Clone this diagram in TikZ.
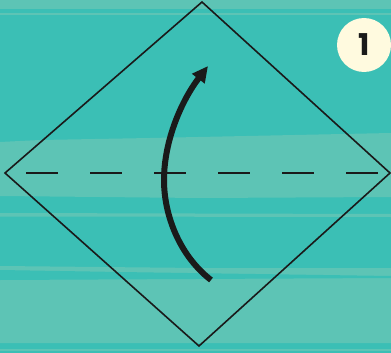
\documentclass[tikz,border=0pt]{standalone}
\usepackage{fontspec}
\setsansfont{Poppins}
\usetikzlibrary{arrows.meta,positioning,calc}
\definecolor{SeaTeal}{HTML}{3BBFB5}
\definecolor{SeaLight}{HTML}{5DC4B5}
\definecolor{PaperCream}{HTML}{FFFADF}
\definecolor{FoldBlack}{HTML}{1A1A1A}

\begin{document}
\begin{tikzpicture}[x=1pt,y=-1pt,font=\sffamily,
  streak/.style={fill=SeaLight,draw=none},
  edge/.style={draw=FoldBlack,line width=1.6pt,line join=miter},
  fold/.style={draw=FoldBlack,line width=2pt,dash pattern=on 32pt off 32pt,dash phase=43pt},
  turn/.style={draw=FoldBlack,line width=6pt,-{Triangle[length=16pt,width=15pt]}},
  badge/.style={circle,fill=PaperCream,minimum size=54pt,inner sep=0pt,font=\sffamily\bfseries\fontsize{30}{30}\selectfont,text=FoldBlack}]
  % background with brush streaks
  \fill[SeaTeal] (0,0) rectangle (391,353);
  \useasboundingbox (0,0) rectangle (391,353);
  \fill[streak] (0,0) rectangle (391,9);
  \fill[streak] (0,13) rectangle (391,15);
  \fill[streak] (0,142) -- (40,140) -- (150,138) -- (391,133) -- (391,197) -- (200,198) -- (0,196) -- cycle;
  \fill[streak] (0,213) -- (391,214) -- (391,217) -- (0,216.5) -- cycle;
  \fill[streak] (0,266) -- (200,268) -- (391,268) -- (391,343) -- (0,343) -- cycle;
  \fill[SeaTeal] (0,270) -- (120,272) -- (391,276) -- (391,278) -- (0,280) -- cycle;
  \fill[streak] (0,349) rectangle (391,351);
  % square sheet seen as a diamond
  \coordinate (t) at (202,2);
  \coordinate (l) at (5,173);
  \coordinate (r) at (390,173);
  \coordinate (b) at (199,346);
  \draw[edge] (t) -- (r) -- (b) -- (l) -- cycle;
  \draw[fold] (l) -- (r);
  % folding arrow
  \coordinate (a0) at (211,280);
  \coordinate (a1) at (164,180);
  \coordinate (a2) at (208,66);
  \draw[turn] (a0) .. controls (180,256) and (164,216) .. (a1) .. controls (164,140) and (182,100) .. (a2);
  % step number
  \node[badge] (step1) at (364,45) {1};
\end{tikzpicture}
\end{document}
